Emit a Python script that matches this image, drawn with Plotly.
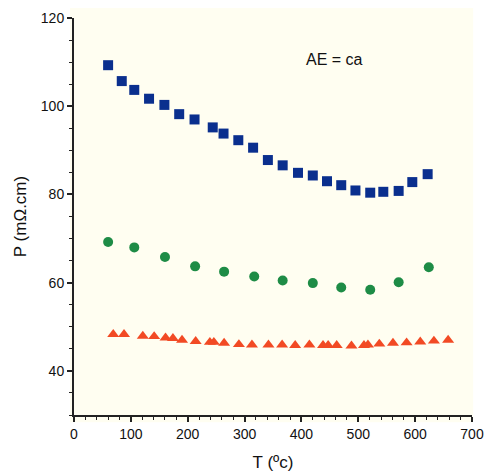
import plotly.graph_objects as go

# Series: square (blue)
sq_T = [60, 84, 106, 132, 159, 185, 212, 244, 263, 289, 315, 341, 367, 394, 420, 445, 470, 495, 521, 544, 571, 595, 622]
sq_P = [109.3, 105.7, 103.7, 101.7, 100.3, 98.2, 97.0, 95.2, 93.8, 92.3, 90.6, 87.8, 86.6, 84.9, 84.3, 83.0, 82.1, 80.9, 80.4, 80.6, 80.8, 82.8, 84.6]

# Series: circle (green)
ci_T = [60, 106, 160, 213, 264, 317, 367, 420, 470, 521, 571, 624]
ci_P = [69.2, 68.0, 65.8, 63.7, 62.5, 61.4, 60.5, 59.9, 58.9, 58.4, 60.1, 63.5]

# Series: triangle (red)
tr_T = [69, 88, 121, 141, 161, 174, 190, 214, 239, 246, 264, 290, 313, 342, 366, 389, 414, 438, 447, 462, 488, 510, 517, 537, 561, 585, 609, 633, 658]
tr_P = [48.3, 48.3, 47.9, 47.8, 47.5, 47.4, 47.0, 46.7, 46.5, 46.5, 46.3, 46.0, 45.9, 45.9, 45.9, 45.8, 45.9, 45.8, 45.8, 45.8, 45.7, 45.8, 45.9, 46.1, 46.3, 46.4, 46.6, 46.8, 47.0]

x_ticks = [0, 100, 200, 300, 400, 500, 600, 700]
y_ticks = [40, 60, 80, 100, 120]

note_text = "AE = ca"
x_title = "T (ºc)"
y_title = "P (mΩ.cm)"

CREAM = "#FFFEF1"
FONT = "Liberation Sans, Arial, Helvetica, sans-serif"

fig = go.Figure()
fig.add_trace(go.Scatter(x=sq_T, y=sq_P, mode="markers",
                         marker=dict(symbol="square", size=10, color="#0A2F8E"), showlegend=False))
fig.add_trace(go.Scatter(x=ci_T, y=ci_P, mode="markers",
                         marker=dict(symbol="circle", size=10, color="#1E8C46"), showlegend=False))
fig.add_trace(go.Scatter(x=tr_T, y=tr_P, mode="markers",
                         marker=dict(symbol="triangle-up", size=10.5, color="#F24A24"), showlegend=False))

fig.add_shape(type="rect", xref="paper", yref="paper", x0=-0.01, x1=1.003, y0=-0.018, y1=1.025,
              fillcolor=CREAM, line=dict(width=0), layer="below")

fig.add_annotation(x=458, y=110.5, text=note_text, showarrow=False,
                   font=dict(family=FONT, size=16, color="#111"))

axis_common = dict(showgrid=False, zeroline=False, showline=True, linecolor="#222", linewidth=2,
                   ticks="outside", tickcolor="#222", tickwidth=1.5, ticklen=5, automargin=False,
                   tickfont=dict(family=FONT, size=14, color="#111"))

fig.update_xaxes(range=[0, 700], tickvals=x_ticks,
                 minor=dict(dtick=20, ticks="outside", ticklen=3, tickcolor="#222", tickwidth=1),
                 title=dict(text=x_title, font=dict(family=FONT, size=17, color="#111"), standoff=20),
                 **axis_common)
fig.update_yaxes(range=[30, 120], tickvals=y_ticks,
                 minor=dict(dtick=5, ticks="outside", ticklen=3, tickcolor="#222", tickwidth=1),
                 title=dict(text=y_title, font=dict(family=FONT, size=17, color="#111"), standoff=10),
                 **axis_common)

fig.update_layout(width=487, height=472, margin=dict(l=74, r=15, t=18, b=57),
                  plot_bgcolor=CREAM, paper_bgcolor="white")

fig.write_html("out.html", config={"displayModeBar": False},
               post_script="document.body.style.margin='0';document.body.style.overflow='hidden';")
